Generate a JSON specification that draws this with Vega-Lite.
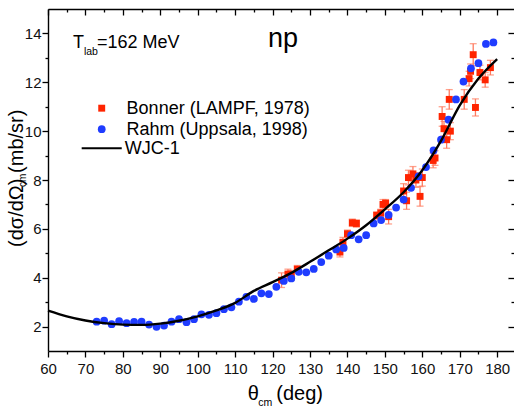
{
  "$schema": "https://vega.github.io/schema/vega-lite/v6.json",
  "autosize": "none",
  "width": 466,
  "height": 342,
  "padding": {"left": 48, "top": 9, "right": 0, "bottom": 60},
  "background": "white",
  "config": {
    "view": {"stroke": null},
    "font": "Liberation Sans",
    "axis": {"labelFont": "Liberation Sans", "labelFontSize": 15, "labelColor": "#111", "domainColor": "#000", "tickColor": "#000", "domainWidth": 1.4, "tickWidth": 1.3, "grid": false, "title": null}
  },
  "datasets": {
    "one": [{"label": "annotation"}],
    "bonner": [
      {"theta": 122.4, "v": 3.9, "err": 0.3},
      {"theta": 124.1, "v": 4.15, "err": 0.2},
      {"theta": 125.0, "v": 4.1, "err": 0.2},
      {"theta": 126.6, "v": 4.35, "err": 0.15},
      {"theta": 138.0, "v": 5.05, "err": 0.2},
      {"theta": 138.8, "v": 5.45, "err": 0.2},
      {"theta": 140.0, "v": 5.8, "err": 0.15},
      {"theta": 141.3, "v": 6.25, "err": 0.15},
      {"theta": 142.4, "v": 6.22, "err": 0.15},
      {"theta": 147.8, "v": 6.55, "err": 0.15},
      {"theta": 148.9, "v": 6.65, "err": 0.15},
      {"theta": 149.5, "v": 7.0, "err": 0.2},
      {"theta": 150.2, "v": 7.05, "err": 0.15},
      {"theta": 151.0, "v": 6.5, "err": 0.3},
      {"theta": 155.0, "v": 7.55, "err": 0.3},
      {"theta": 155.8, "v": 7.15, "err": 0.35},
      {"theta": 156.3, "v": 8.1, "err": 0.3},
      {"theta": 157.5, "v": 8.25, "err": 0.3},
      {"theta": 158.3, "v": 8.0, "err": 0.3},
      {"theta": 159.4, "v": 7.33, "err": 0.4},
      {"theta": 160.0, "v": 8.1, "err": 0.35},
      {"theta": 162.9, "v": 8.8, "err": 0.3},
      {"theta": 163.4, "v": 8.9, "err": 0.3},
      {"theta": 165.3, "v": 10.6, "err": 0.4},
      {"theta": 165.8, "v": 10.1, "err": 0.3},
      {"theta": 166.5, "v": 9.65, "err": 0.35},
      {"theta": 167.2, "v": 11.3, "err": 0.4},
      {"theta": 167.5, "v": 10.0, "err": 0.35},
      {"theta": 171.2, "v": 11.3, "err": 0.4},
      {"theta": 172.5, "v": 12.15, "err": 0.3},
      {"theta": 172.9, "v": 12.45, "err": 0.3},
      {"theta": 173.6, "v": 13.13, "err": 0.45},
      {"theta": 174.2, "v": 10.97, "err": 0.35},
      {"theta": 175.4, "v": 12.4, "err": 0.3},
      {"theta": 176.8, "v": 12.1, "err": 0.3},
      {"theta": 178.2, "v": 12.6, "err": 0.3}
    ],
    "rahm": [
      {"theta": 73, "v": 2.2}, {"theta": 75, "v": 2.24}, {"theta": 77, "v": 2.1}, {"theta": 79, "v": 2.22},
      {"theta": 81, "v": 2.14}, {"theta": 83, "v": 2.19}, {"theta": 85, "v": 2.2}, {"theta": 87, "v": 2.08},
      {"theta": 89, "v": 1.99}, {"theta": 91, "v": 2.04}, {"theta": 93, "v": 2.2}, {"theta": 95, "v": 2.3},
      {"theta": 97, "v": 2.18}, {"theta": 99, "v": 2.3}, {"theta": 101, "v": 2.5}, {"theta": 103, "v": 2.48},
      {"theta": 105, "v": 2.55}, {"theta": 107, "v": 2.71}, {"theta": 109, "v": 2.79}, {"theta": 111, "v": 3.02},
      {"theta": 113, "v": 3.22}, {"theta": 115, "v": 3.13}, {"theta": 117, "v": 3.36}, {"theta": 119, "v": 3.33},
      {"theta": 121, "v": 3.63}, {"theta": 123, "v": 3.87}, {"theta": 125, "v": 3.97}, {"theta": 127, "v": 4.24},
      {"theta": 129, "v": 4.22}, {"theta": 131, "v": 4.36}, {"theta": 133, "v": 4.64}, {"theta": 135, "v": 4.9},
      {"theta": 137, "v": 5.16}, {"theta": 139, "v": 5.22}, {"theta": 141, "v": 5.74}, {"theta": 143, "v": 5.57},
      {"theta": 145, "v": 5.74}, {"theta": 147, "v": 6.22}, {"theta": 149, "v": 6.36}, {"theta": 151, "v": 6.57},
      {"theta": 153, "v": 6.87}, {"theta": 155, "v": 7.2}, {"theta": 157, "v": 7.68}, {"theta": 159, "v": 8.15},
      {"theta": 161, "v": 8.53}, {"theta": 163, "v": 9.21}, {"theta": 165, "v": 9.65}, {"theta": 167, "v": 10.47},
      {"theta": 169, "v": 11.3}, {"theta": 171, "v": 12.03}, {"theta": 173, "v": 12.57}, {"theta": 175, "v": 12.78},
      {"theta": 177, "v": 13.57}, {"theta": 179, "v": 13.63}
    ],
    "wjc": [
      {"theta": 60, "v": 2.65}, {"theta": 65, "v": 2.42}, {"theta": 70, "v": 2.25}, {"theta": 75, "v": 2.14},
      {"theta": 80, "v": 2.08}, {"theta": 85, "v": 2.07}, {"theta": 90, "v": 2.12}, {"theta": 95, "v": 2.24},
      {"theta": 100, "v": 2.42}, {"theta": 105, "v": 2.66}, {"theta": 110, "v": 2.97}, {"theta": 115, "v": 3.46},
      {"theta": 120, "v": 3.82}, {"theta": 125, "v": 4.2}, {"theta": 130, "v": 4.65}, {"theta": 135, "v": 5.12},
      {"theta": 140, "v": 5.6}, {"theta": 145, "v": 6.15}, {"theta": 150, "v": 6.8}, {"theta": 155, "v": 7.5},
      {"theta": 160, "v": 8.4}, {"theta": 165, "v": 9.6}, {"theta": 170, "v": 11.05}, {"theta": 175, "v": 12.15},
      {"theta": 180, "v": 12.95}
    ]
  },
  "resolve": {"axis": {"x": "independent", "y": "independent"}},
  "layer": [
    {
      "data": {"name": "bonner"},
      "mark": {"type": "errorbar", "ticks": {"size": 7}, "color": "#ff7a5e", "thickness": 1.3},
      "encoding": {
        "x": {"field": "theta", "type": "quantitative", "scale": {"domain": [60, 184.5], "nice": false, "zero": false}, "axis": null},
        "y": {"field": "v", "type": "quantitative", "scale": {"domain": [1, 15], "nice": false, "zero": false}, "axis": null},
        "yError": {"field": "err"}
      }
    },
    {
      "data": {"name": "bonner"},
      "mark": {"type": "point", "shape": "square", "filled": true, "size": 48, "color": "#ff2400", "opacity": 1},
      "encoding": {
        "x": {"field": "theta", "type": "quantitative", "scale": {"domain": [60, 184.5], "nice": false, "zero": false},
          "axis": {"orient": "bottom", "values": [60,65,70,75,80,85,90,95,100,105,110,115,120,125,130,135,140,145,150,155,160,165,170,175,180],
            "labelExpr": "datum.value % 10 === 0 ? datum.label : ''", "labelPadding": 4, "labelFlush": false, "labelOverlap": false,
            "tickSize": {"condition": {"test": "datum.value % 10 === 0", "value": 6}, "value": 3}}},
        "y": {"field": "v", "type": "quantitative", "scale": {"domain": [1, 15], "nice": false, "zero": false},
          "axis": {"orient": "left", "values": [2,3,4,5,6,7,8,9,10,11,12,13,14],
            "labelExpr": "datum.value % 2 === 0 ? datum.label : ''", "labelPadding": 1, "labelFlush": false, "labelOverlap": false,
            "tickSize": {"condition": {"test": "datum.value % 2 === 0", "value": 6}, "value": 3}}}
      }
    },
    {
      "data": {"name": "rahm"},
      "mark": {"type": "point", "shape": "circle", "filled": true, "size": 60, "color": "#1f3cff", "opacity": 1},
      "encoding": {
        "x": {"field": "theta", "type": "quantitative", "scale": {"domain": [60, 184.5], "nice": false, "zero": false},
          "axis": {"orient": "top", "values": [60,65,70,75,80,85,90,95,100,105,110,115,120,125,130,135,140,145,150,155,160,165,170,175,180],
            "labels": false,
            "tickSize": {"condition": {"test": "datum.value % 10 === 0", "value": -6}, "value": -3}}},
        "y": {"field": "v", "type": "quantitative", "scale": {"domain": [1, 15], "nice": false, "zero": false},
          "axis": {"orient": "right", "values": [2,3,4,5,6,7,8,9,10,11,12,13,14], "labels": false, "domain": false,
            "tickSize": {"condition": {"test": "datum.value % 2 === 0", "value": -6}, "value": -3}}}
      }
    },
    {
      "data": {"name": "wjc"},
      "mark": {"type": "line", "color": "#000", "strokeWidth": 2.4, "interpolate": "monotone"},
      "encoding": {
        "x": {"field": "theta", "type": "quantitative", "scale": {"domain": [60, 184.5], "nice": false, "zero": false}, "axis": null},
        "y": {"field": "v", "type": "quantitative", "scale": {"domain": [1, 15], "nice": false, "zero": false}, "axis": null}
      }
    },
    {
      "data": {"name": "one"},
      "mark": {"type": "text", "text": "np", "fontSize": 27, "align": "center", "baseline": "alphabetic", "color": "#000"},
      "encoding": {"x": {"datum": 122.8, "type": "quantitative", "axis": null}, "y": {"datum": 13.44, "type": "quantitative", "axis": null}}
    },
    {
      "data": {"name": "one"},
      "mark": {"type": "text", "text": "T", "fontSize": 18, "align": "left", "baseline": "alphabetic", "color": "#000"},
      "encoding": {"x": {"datum": 66.7, "type": "quantitative", "axis": null}, "y": {"datum": 13.39, "type": "quantitative", "axis": null}}
    },
    {
      "data": {"name": "one"},
      "mark": {"type": "text", "text": "lab", "fontSize": 10.5, "align": "left", "baseline": "alphabetic", "color": "#000"},
      "encoding": {"x": {"datum": 69.6, "type": "quantitative", "axis": null}, "y": {"datum": 13.12, "type": "quantitative", "axis": null}}
    },
    {
      "data": {"name": "one"},
      "mark": {"type": "text", "text": "=162 MeV", "fontSize": 18, "align": "left", "baseline": "alphabetic", "color": "#000"},
      "encoding": {"x": {"datum": 73.1, "type": "quantitative", "axis": null}, "y": {"datum": 13.39, "type": "quantitative", "axis": null}}
    },
    {
      "data": {"name": "one"},
      "mark": {"type": "point", "shape": "square", "filled": true, "size": 48, "color": "#ff2400", "opacity": 1},
      "encoding": {"x": {"datum": 74.35, "type": "quantitative", "axis": null}, "y": {"datum": 10.94, "type": "quantitative", "axis": null}}
    },
    {
      "data": {"name": "one"},
      "mark": {"type": "point", "shape": "circle", "filled": true, "size": 60, "color": "#1f3cff", "opacity": 1},
      "encoding": {"x": {"datum": 74.35, "type": "quantitative", "axis": null}, "y": {"datum": 10.08, "type": "quantitative", "axis": null}}
    },
    {
      "data": {"name": "one"},
      "mark": {"type": "rule", "color": "#000", "strokeWidth": 2.2},
      "encoding": {"x": {"datum": 69.0, "type": "quantitative", "axis": null}, "x2": {"datum": 79.7}, "y": {"datum": 9.3, "type": "quantitative", "axis": null}}
    },
    {
      "data": {"name": "one"},
      "mark": {"type": "text", "text": "Bonner (LAMPF, 1978)", "fontSize": 18, "align": "left", "baseline": "alphabetic", "color": "#000"},
      "encoding": {"x": {"datum": 81.0, "type": "quantitative", "axis": null}, "y": {"datum": 10.69, "type": "quantitative", "axis": null}}
    },
    {
      "data": {"name": "one"},
      "mark": {"type": "text", "text": "Rahm (Uppsala, 1998)", "fontSize": 18, "align": "left", "baseline": "alphabetic", "color": "#000"},
      "encoding": {"x": {"datum": 81.0, "type": "quantitative", "axis": null}, "y": {"datum": 9.84, "type": "quantitative", "axis": null}}
    },
    {
      "data": {"name": "one"},
      "mark": {"type": "text", "text": "WJC-1", "fontSize": 18, "align": "left", "baseline": "alphabetic", "color": "#000"},
      "encoding": {"x": {"datum": 80.5, "type": "quantitative", "axis": null}, "y": {"datum": 9.05, "type": "quantitative", "axis": null}}
    },
    {
      "data": {"name": "one"},
      "mark": {"type": "text", "text": "θ", "fontSize": 20, "align": "left", "baseline": "alphabetic", "color": "#000"},
      "encoding": {"x": {"datum": 113.4, "type": "quantitative", "axis": null}, "y": {"datum": -1.0, "type": "quantitative", "axis": null}}
    },
    {
      "data": {"name": "one"},
      "mark": {"type": "text", "text": "cm", "fontSize": 10.5, "align": "left", "baseline": "alphabetic", "color": "#000"},
      "encoding": {"x": {"datum": 116.2, "type": "quantitative", "axis": null}, "y": {"datum": -1.25, "type": "quantitative", "axis": null}}
    },
    {
      "data": {"name": "one"},
      "mark": {"type": "text", "text": "(deg)", "fontSize": 20, "align": "left", "baseline": "alphabetic", "color": "#000"},
      "encoding": {"x": {"datum": 121.0, "type": "quantitative", "axis": null}, "y": {"datum": -1.0, "type": "quantitative", "axis": null}}
    },
    {
      "data": {"name": "one"},
      "mark": {"type": "text", "text": "(dσ/dΩ)", "fontSize": 20, "angle": 270, "align": "left", "baseline": "alphabetic", "color": "#000"},
      "encoding": {"x": {"datum": 53.45, "type": "quantitative", "axis": null}, "y": {"datum": 5.26, "type": "quantitative", "axis": null}}
    },
    {
      "data": {"name": "one"},
      "mark": {"type": "text", "text": "cm", "fontSize": 10, "angle": 270, "align": "left", "baseline": "alphabetic", "color": "#000"},
      "encoding": {"x": {"datum": 54.0, "type": "quantitative", "axis": null}, "y": {"datum": 7.71, "type": "quantitative", "axis": null}}
    },
    {
      "data": {"name": "one"},
      "mark": {"type": "text", "text": "(mb/sr)", "fontSize": 20, "angle": 270, "align": "left", "baseline": "alphabetic", "color": "#000"},
      "encoding": {"x": {"datum": 53.45, "type": "quantitative", "axis": null}, "y": {"datum": 8.29, "type": "quantitative", "axis": null}}
    }
  ]
}
